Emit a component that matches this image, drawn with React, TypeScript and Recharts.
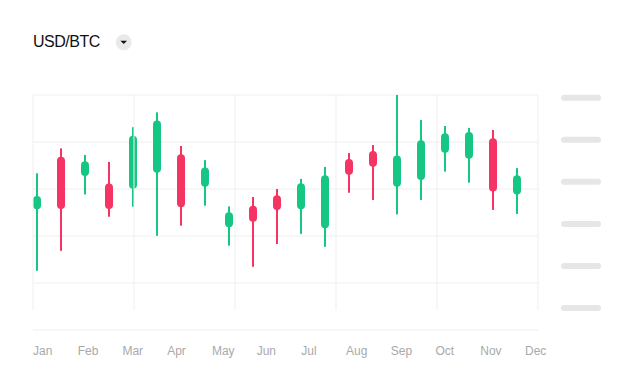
import React from 'react';
import {
  Bar,
  CartesianGrid,
  ComposedChart,
  ReferenceLine,
  XAxis,
  YAxis,
} from 'recharts';

const months = ['Jan', 'Feb', 'Mar', 'Apr', 'May', 'Jun', 'Jul', 'Aug', 'Sep', 'Oct', 'Nov', 'Dec'];
const opens = [51.4, 73.7, 65.5, 62.3, 60.1, 66.9, 74.8, 61.0, 43.7, 52.9, 57.3, 51.4, 43.3, 72.8, 76.2, 61.0, 63.8, 75.4, 72.9, 81.6, 57.7];
const closes = [57.0, 51.5, 71.8, 51.5, 82.7, 89.1, 52.2, 69.2, 50.1, 46.1, 51.1, 62.4, 65.8, 66.1, 69.5, 74.3, 80.7, 83.7, 84.3, 58.9, 65.8];
const highs = [66.7, 77.3, 74.5, 71.5, 86.3, 92.6, 78.3, 72.3, 52.6, 56.6, 60.0, 64.3, 69.4, 75.3, 78.7, 100, 89.4, 86.8, 86.0, 85.1, 68.9];
const lows = [25.2, 33.7, 57.7, 48.2, 52.5, 40.1, 44.4, 52.9, 35.9, 26.9, 36.6, 40.9, 35.4, 58.4, 55.3, 49.2, 55.3, 67.4, 62.7, 51.1, 49.4];
const valueTicks = [0, 20, 40, 60, 80, 100];
const pillTicks = [0, 1, 2, 3, 4, 5];

const GREEN = '#16c784';
const RED = '#f43563';
const GRID = '#efefef';

const candleDomain: [number, number] = [-1 / 6, 20.875];
const pillDomain: [number, number] = [-0.523, 5.064];
// month labels run on their own rhythm, a bit wider than 2 candles each
const monthStep = 1.8636;

const data = opens.map((open, i) => ({
  i,
  open,
  close: closes[i],
  high: highs[i],
  low: lows[i],
}));

const monthTicks = months.map((_, k) => candleDomain[0] + k * monthStep);

// five equal columns across the plot, grid stops short of the axis line
const columnLines = [0, 1, 2, 3, 4, 5].map(
  k => candleDomain[0] + (k * (candleDomain[1] - candleDomain[0])) / 5
);

const Candle = (props: any) => {
  const { x, y, width, height, payload } = props;
  const { open, close, high, low } = payload;
  const ratio = height / (high - low);
  const toY = (v: number) => y + (high - v) * ratio;
  const color = close >= open ? GREEN : RED;
  const cx = x + width / 2;
  const bodyTop = toY(Math.max(open, close));
  const bodyBottom = toY(Math.min(open, close));
  return (
    <g>
      <rect x={cx - 1} y={y} width={2} height={height} fill={color} />
      <rect x={cx - 4} y={bodyTop} width={8} height={bodyBottom - bodyTop} rx={4} fill={color} />
    </g>
  );
};

const PillTick = (props: any) => {
  const { x, y } = props;
  return <rect x={x} y={y - 3} width={40} height={6} rx={3} fill="#e6e6e8" />;
};

const App: React.FC = () => {
  return (
    <div
      style={{
        position: 'absolute',
        left: 0,
        top: 0,
        width: 624,
        height: 376,
        background: '#fff',
        fontFamily: '"Liberation Sans", Arial, sans-serif',
      }}
    >
      <div
        style={{
          position: 'absolute',
          left: 33,
          top: 34,
          fontSize: 16,
          lineHeight: '16px',
          letterSpacing: -0.5,
          color: '#111',
        }}
      >
        USD/BTC
      </div>
      <svg style={{ position: 'absolute', left: 115, top: 34 }} width={18} height={18}>
        <circle cx={8.7} cy={8.3} r={8} fill="#e9e9ea" />
        <path d="M5.4 6.7 L12 6.7 L8.7 10 Z" fill="#111" />
      </svg>
      <div style={{ position: 'absolute', left: 0, top: 0 }}>
        <ComposedChart
          width={624}
          height={376}
          data={data}
          margin={{ top: 95, right: 26, bottom: 16, left: 33 }}
        >
          <CartesianGrid xAxisId="c" yAxisId="v" vertical={false} stroke={GRID} />
          <XAxis
            xAxisId="c"
            dataKey="i"
            type="number"
            domain={candleDomain}
            allowDataOverflow
            ticks={monthTicks}
            tickFormatter={(_v: number, index: number) => months[index] ?? ''}
            interval={0}
            axisLine={false}
            tickLine={false}
            tickSize={6}
            tickMargin={10}
            height={30}
            tick={{ textAnchor: 'start', fill: '#a9a9a9', fontSize: 12 }}
          />
          <YAxis yAxisId="v" type="number" domain={[0, 100]} ticks={valueTicks} allowDataOverflow hide />
          <YAxis
            yAxisId="p"
            orientation="right"
            type="number"
            domain={pillDomain}
            ticks={pillTicks}
            interval={0}
            allowDataOverflow
            axisLine={false}
            tickLine={false}
            tickSize={0}
            tickMargin={23}
            width={60}
            tick={<PillTick />}
          />
          {columnLines.map(v => (
            <ReferenceLine
              key={v}
              xAxisId="c"
              yAxisId="v"
              segment={[{ x: v, y: 100 }, { x: v, y: 8.5 }]}
              stroke={GRID}
              ifOverflow="visible"
            />
          ))}
          <Bar
            xAxisId="c"
            yAxisId="v"
            dataKey={(d: any) => [d.low, d.high]}
            barSize={8}
            shape={<Candle />}
            isAnimationActive={false}
          />
        </ComposedChart>
      </div>
    </div>
  );
};

export default App;
